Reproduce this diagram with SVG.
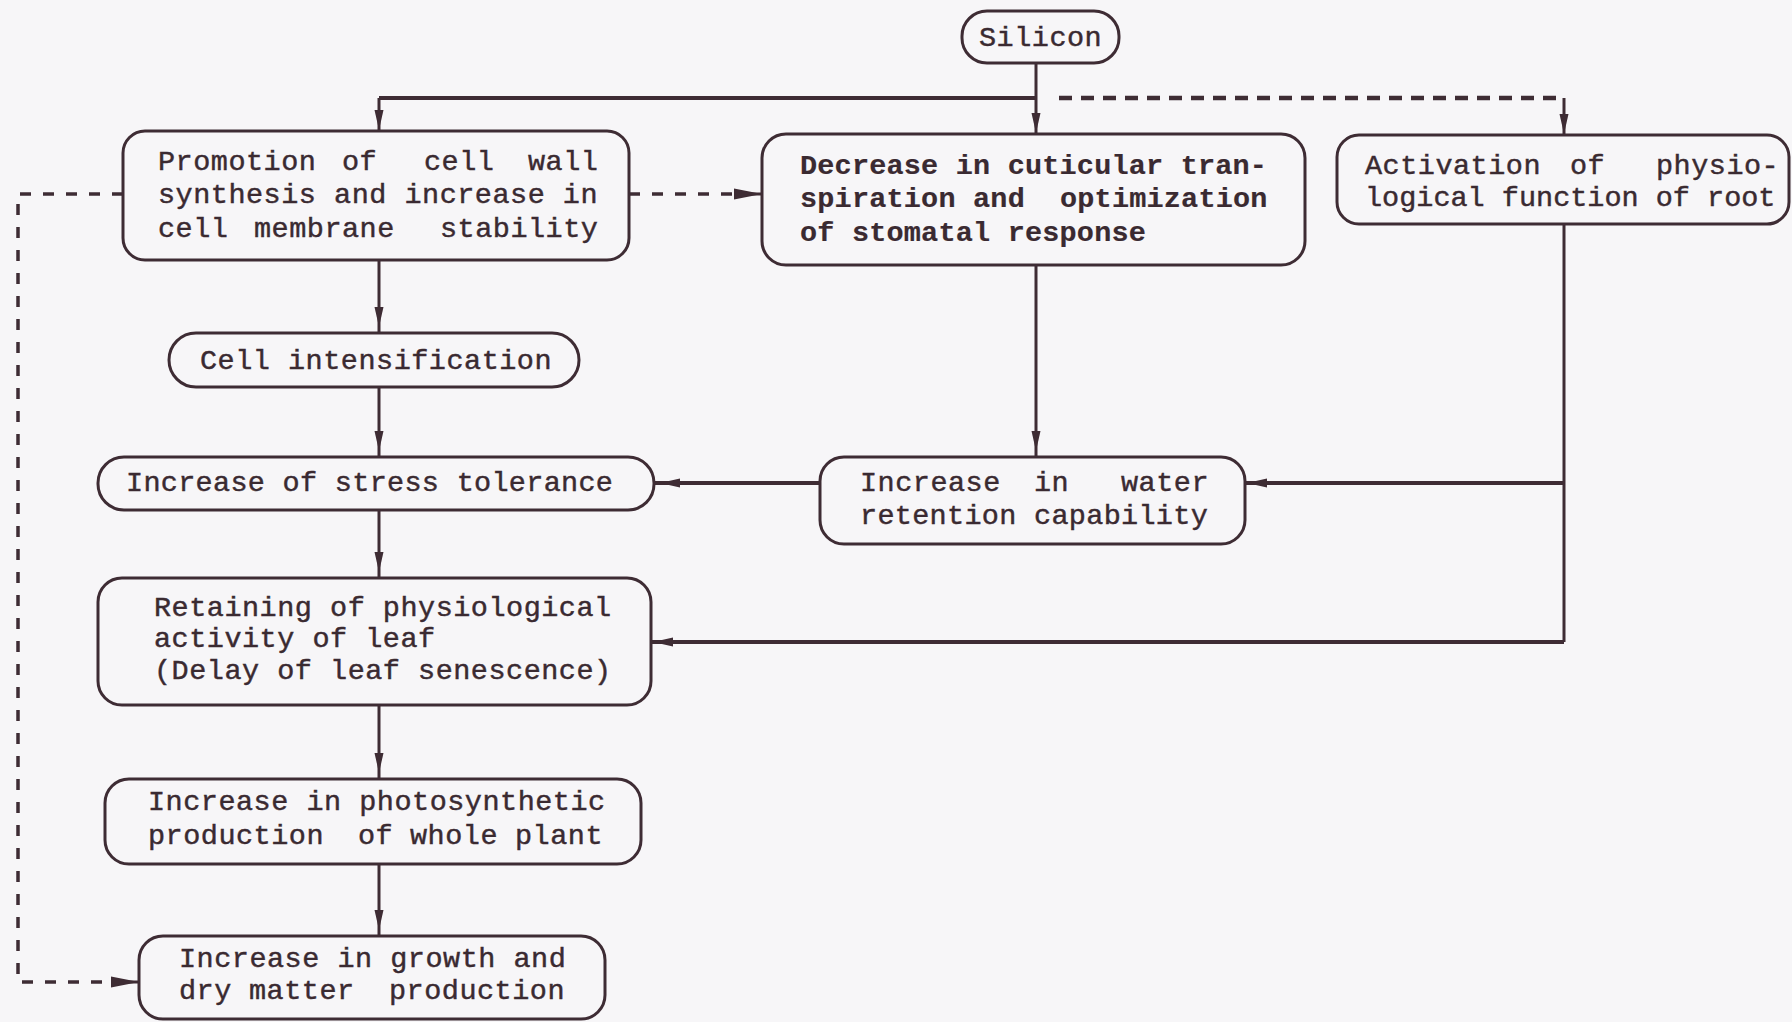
<svg xmlns="http://www.w3.org/2000/svg" width="1792" height="1022" viewBox="0 0 1792 1022">
<style>
.box{fill:none;stroke:#3e2c34;stroke-width:3}
.t{font-family:"Liberation Mono","DejaVu Sans Mono",monospace;font-size:28.5px;letter-spacing:0.5px;fill:#3a2a31;stroke:#3a2a31;stroke-width:0.45}
.b{font-weight:bold;stroke-width:0.2}
.ln{fill:none;stroke:#3e2c34;stroke-width:3}
.thk{stroke-width:4}
.dsh{fill:none;stroke:#3e2c34;stroke-width:3.5;stroke-dasharray:11 12}
.dsh2{fill:none;stroke:#3e2c34;stroke-width:4.5;stroke-dasharray:13 9}
</style>
<defs>
<marker id="ah" viewBox="0 0 30 12" refX="26" refY="6" markerWidth="30" markerHeight="12" orient="auto" markerUnits="userSpaceOnUse"><path d="M0,1.5 L20,6 L0,10.5 z" fill="#3e2c34"/></marker>
<marker id="ah0" viewBox="0 0 30 12" refX="21" refY="6" markerWidth="30" markerHeight="12" orient="auto" markerUnits="userSpaceOnUse"><path d="M0,1.5 L20,6 L0,10.5 z" fill="#3e2c34"/></marker>
<marker id="ahd" viewBox="0 0 30 14" refX="28" refY="7" markerWidth="30" markerHeight="14" orient="auto" markerUnits="userSpaceOnUse"><path d="M0,1.5 L28,7 L0,12.5 z" fill="#3e2c34"/></marker>
</defs>
<rect x="0" y="0" width="1792" height="1022" fill="#f7f6f8"/>
<g id="connectors">
<path class="ln thk" d="M379,98 H1036"/>
<path class="ln" d="M379,98 V131" marker-end="url(#ah0)"/>
<path class="ln" d="M1036,63 V134" marker-end="url(#ah0)"/>
<path class="dsh2" d="M1059,98 H1562"/>
<path class="ln" d="M1564,98 V135" marker-end="url(#ah0)"/>
<path class="ln" d="M379,260 V333" marker-end="url(#ah)"/>
<path class="ln" d="M379,387 V457" marker-end="url(#ah)"/>
<path class="ln" d="M379,510 V578" marker-end="url(#ah)"/>
<path class="ln" d="M379,705 V779" marker-end="url(#ah)"/>
<path class="ln" d="M379,864 V936" marker-end="url(#ah)"/>
<path class="ln" d="M1036,265 V457" marker-end="url(#ah)"/>
<path class="ln thk" d="M820,483 H654" marker-end="url(#ah)"/>
<path class="ln" d="M1564,224 V642"/>
<path class="ln thk" d="M1564,483 H1246" marker-end="url(#ah0)"/>
<path class="ln thk" d="M1564,642 H652" marker-end="url(#ah0)"/>
<path class="dsh" d="M629,194 H734"/>
<path class="ln" d="M734,194 H762" marker-end="url(#ahd)"/>
<path class="dsh" d="M123,194 H18 V982 H112"/>
<path class="ln" d="M112,982 H139" marker-end="url(#ahd)"/>
</g>
<g id="silicon">
<rect class="box" x="962" y="11" width="157" height="52" rx="25"/>
<text class="t" x="979" y="46">Silicon</text>
</g>
<g id="promotion">
<rect class="box" x="123" y="131" width="506" height="129" rx="22"/>
<text class="t" y="170"><tspan x="158">Promotion</tspan> <tspan x="342">of</tspan> <tspan x="424">cell</tspan> <tspan x="528">wall</tspan></text>
<text class="t" x="158" y="203">synthesis and increase in</text>
<text class="t" y="237"><tspan x="158">cell</tspan> <tspan x="254">membrane</tspan> <tspan x="440">stability</tspan></text>
</g>
<g id="decrease">
<rect class="box" x="762" y="134" width="543" height="131" rx="24"/>
<text class="t b" x="800" y="174" style="letter-spacing:0.2px">Decrease in cuticular tran-</text>
<text class="t b" y="207" style="letter-spacing:0.2px"><tspan x="800">spiration and</tspan> <tspan x="1060">optimization</tspan></text>
<text class="t b" x="800" y="241" style="letter-spacing:0.2px">of stomatal response</text>
</g>
<g id="activation">
<rect class="box" x="1337" y="135" width="452" height="89" rx="22"/>
<text class="t" y="174"><tspan x="1365">Activation</tspan> <tspan x="1570">of</tspan> <tspan x="1656">physio-</tspan></text>
<text class="t" x="1365" y="206" style="letter-spacing:0px">logical function of root</text>
</g>
<g id="cell">
<rect class="box" x="169" y="333" width="410" height="54" rx="27"/>
<text class="t" x="200" y="369">Cell intensification</text>
</g>
<g id="stress">
<rect class="box" x="98" y="457" width="556" height="53" rx="26"/>
<text class="t" x="126" y="491" style="letter-spacing:0.3px">Increase of stress tolerance</text>
</g>
<g id="water">
<rect class="box" x="820" y="457" width="425" height="87" rx="24"/>
<text class="t" y="491"><tspan x="860">Increase</tspan> <tspan x="1034">in</tspan> <tspan x="1121">water</tspan></text>
<text class="t" x="860" y="524" style="letter-spacing:0.3px">retention capability</text>
</g>
<g id="retaining">
<rect class="box" x="98" y="578" width="553" height="127" rx="24"/>
<text class="t" x="154" y="616">Retaining of physiological</text>
<text class="t" x="154" y="647">activity of leaf</text>
<text class="t" x="154" y="679">(Delay of leaf senescence)</text>
</g>
<g id="photosynthetic">
<rect class="box" x="105" y="779" width="536" height="85" rx="24"/>
<text class="t" x="148" y="810">Increase in photosynthetic</text>
<text class="t" y="844"><tspan x="148">production</tspan> <tspan x="358">of</tspan> <tspan x="410">whole</tspan> <tspan x="515">plant</tspan></text>
</g>
<g id="growth">
<rect class="box" x="139" y="936" width="466" height="83" rx="24"/>
<text class="t" x="179" y="967">Increase in growth and</text>
<text class="t" y="999"><tspan x="179">dry</tspan> <tspan x="249">matter</tspan> <tspan x="389">production</tspan></text>
</g>
</svg>
